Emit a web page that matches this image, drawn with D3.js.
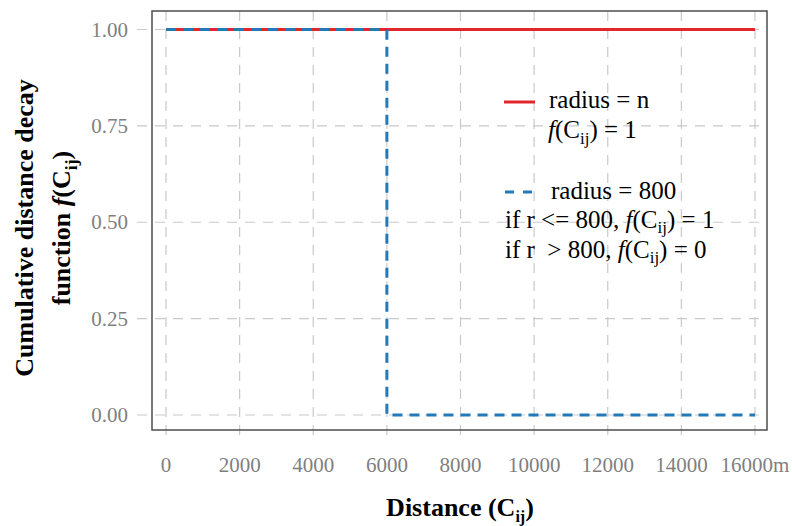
<!DOCTYPE html>
<html>
<head>
<meta charset="utf-8">
<script src="https://cdn.jsdelivr.net/npm/d3@7"></script>
<style>
  body { margin: 0; background: #fff; }
  text { font-family: "Liberation Serif", "Times New Roman", serif; }
</style>
</head>
<body>
<script>
// tick values
const xTicks = [0, 2000, 4000, 6000, 8000, 10000, 12000, 14000, 16000];
const xTickLabels = ["0", "2000", "4000", "6000", "8000", "10000", "12000", "14000", "16000m"];
const yTicks = [0, 0.25, 0.5, 0.75, 1];

// series: radius = n (always 1)
const radiusN = [
  {x: 0, y: 1},
  {x: 16000, y: 1}
];
// series: radius = 800 (step down at 6000)
const radius800 = [
  {x: 0, y: 1},
  {x: 6000, y: 1},
  {x: 6000, y: 0},
  {x: 16000, y: 0}
];

const width = 792;
const height = 526;
const box = {left: 152, top: 11, right: 767, bottom: 430};

const red = "#e3262c";
const blue = "#2479b8";

const svg = d3.select("body")
  .append("svg")
  .attr("width", width)
  .attr("height", height);

// scales
const xScale = d3.scaleLinear()
  .domain([0, 16000])
  .range([166, 755]);

const yScale = d3.scaleLinear()
  .domain([0, 1])
  .range([415, 29.5]);

// grid lines (they run past the panel box like ticks)
svg.append("g")
  .selectAll("line")
  .data(xTicks)
  .enter()
  .append("line")
  .attr("x1", d => xScale(d))
  .attr("x2", d => xScale(d))
  .attr("y1", box.top)
  .attr("y2", box.bottom + 13)
  .attr("stroke", "#c9c9c9")
  .attr("stroke-width", 1.2)
  .attr("stroke-dasharray", "10,8");

svg.append("g")
  .selectAll("line")
  .data(yTicks)
  .enter()
  .append("line")
  .attr("x1", box.left - 15)
  .attr("x2", box.right)
  .attr("y1", d => yScale(d))
  .attr("y2", d => yScale(d))
  .attr("stroke", "#c9c9c9")
  .attr("stroke-width", 1.2)
  .attr("stroke-dasharray", "10,8");

// tick labels
svg.append("g")
  .selectAll("text")
  .data(xTicks)
  .enter()
  .append("text")
  .attr("x", d => xScale(d))
  .attr("y", 472)
  .attr("text-anchor", "middle")
  .attr("fill", "#7f7f7f")
  .attr("font-size", 21)
  .text((d, i) => xTickLabels[i]);

svg.append("g")
  .selectAll("text")
  .data(yTicks)
  .enter()
  .append("text")
  .attr("x", 128)
  .attr("y", d => yScale(d) + 7)
  .attr("text-anchor", "end")
  .attr("fill", "#7f7f7f")
  .attr("font-size", 21)
  .text(d => d3.format(".2f")(d));

// lines
const line = d3.line()
  .x(d => xScale(d.x))
  .y(d => yScale(d.y));

svg.append("path")
  .datum(radiusN)
  .attr("d", line)
  .attr("fill", "none")
  .attr("stroke", red)
  .attr("stroke-width", 3);

svg.append("path")
  .datum(radius800)
  .attr("d", line)
  .attr("fill", "none")
  .attr("stroke", blue)
  .attr("stroke-width", 3)
  .attr("stroke-dasharray", "10,7");

// panel box
svg.append("rect")
  .attr("x", box.left)
  .attr("y", box.top)
  .attr("width", box.right - box.left)
  .attr("height", box.bottom - box.top)
  .attr("fill", "none")
  .attr("stroke", "#4d4d4d")
  .attr("stroke-width", 1.5);

// helper for f(Cij) text
const addFC = (t, shift) => {
  t.append("tspan").attr("font-style", "italic").text("f");
  t.append("tspan").text("(C");
  t.append("tspan").attr("font-size", "0.68em").attr("dy", shift).text("ij");
  t.append("tspan").attr("dy", -shift).text(")");
};

// legend
const legend = svg.append("g").attr("font-size", 25);
legend.append("line")
  .attr("x1", 504).attr("x2", 535)
  .attr("y1", 102).attr("y2", 102)
  .attr("stroke", red).attr("stroke-width", 3);
legend.append("text")
  .attr("x", 549).attr("y", 108)
  .text("radius = n");
const t2 = legend.append("text")
  .attr("x", 548).attr("y", 138);
addFC(t2, 6);
t2.append("tspan").text(" = 1");

legend.append("line")
  .attr("x1", 505).attr("x2", 533)
  .attr("y1", 192).attr("y2", 192)
  .attr("stroke", blue).attr("stroke-width", 3)
  .attr("stroke-dasharray", "9,9");
legend.append("text")
  .attr("x", 551).attr("y", 199)
  .text("radius = 800");
const t4 = legend.append("text")
  .attr("x", 505).attr("y", 228)
  .attr("xml:space", "preserve");
t4.append("tspan").text("if r <= 800, ");
addFC(t4, 5);
t4.append("tspan").text(" = 1");
const t5 = legend.append("text")
  .attr("x", 505).attr("y", 258)
  .attr("xml:space", "preserve");
t5.append("tspan").text("if r  > 800, ");
addFC(t5, 5);
t5.append("tspan").text(" = 0");

// axis titles
const xt = svg.append("text")
  .attr("x", 460).attr("y", 516)
  .attr("text-anchor", "middle")
  .attr("font-size", 26)
  .attr("font-weight", "bold");
xt.append("tspan").text("Distance (C");
xt.append("tspan").attr("font-size", "0.62em").attr("dy", 6).text("ij");
xt.append("tspan").attr("dy", -6).text(")");

const yt = svg.append("g")
  .attr("transform", "translate(33, 228) rotate(-90)");
yt.append("text")
  .attr("x", 0).attr("y", 0)
  .attr("text-anchor", "middle")
  .attr("font-size", 26)
  .attr("font-weight", "bold")
  .text("Cumulative distance decay");
const yt2 = yt.append("text")
  .attr("x", 0).attr("y", 37)
  .attr("text-anchor", "middle")
  .attr("font-size", 26)
  .attr("font-weight", "bold");
yt2.append("tspan").text("function ");
yt2.append("tspan").attr("font-style", "italic").text("f");
yt2.append("tspan").text("(C");
yt2.append("tspan").attr("font-size", "0.68em").attr("dy", 7).text("ij");
yt2.append("tspan").attr("dy", -7).text(")");
</script>
</body>
</html>
